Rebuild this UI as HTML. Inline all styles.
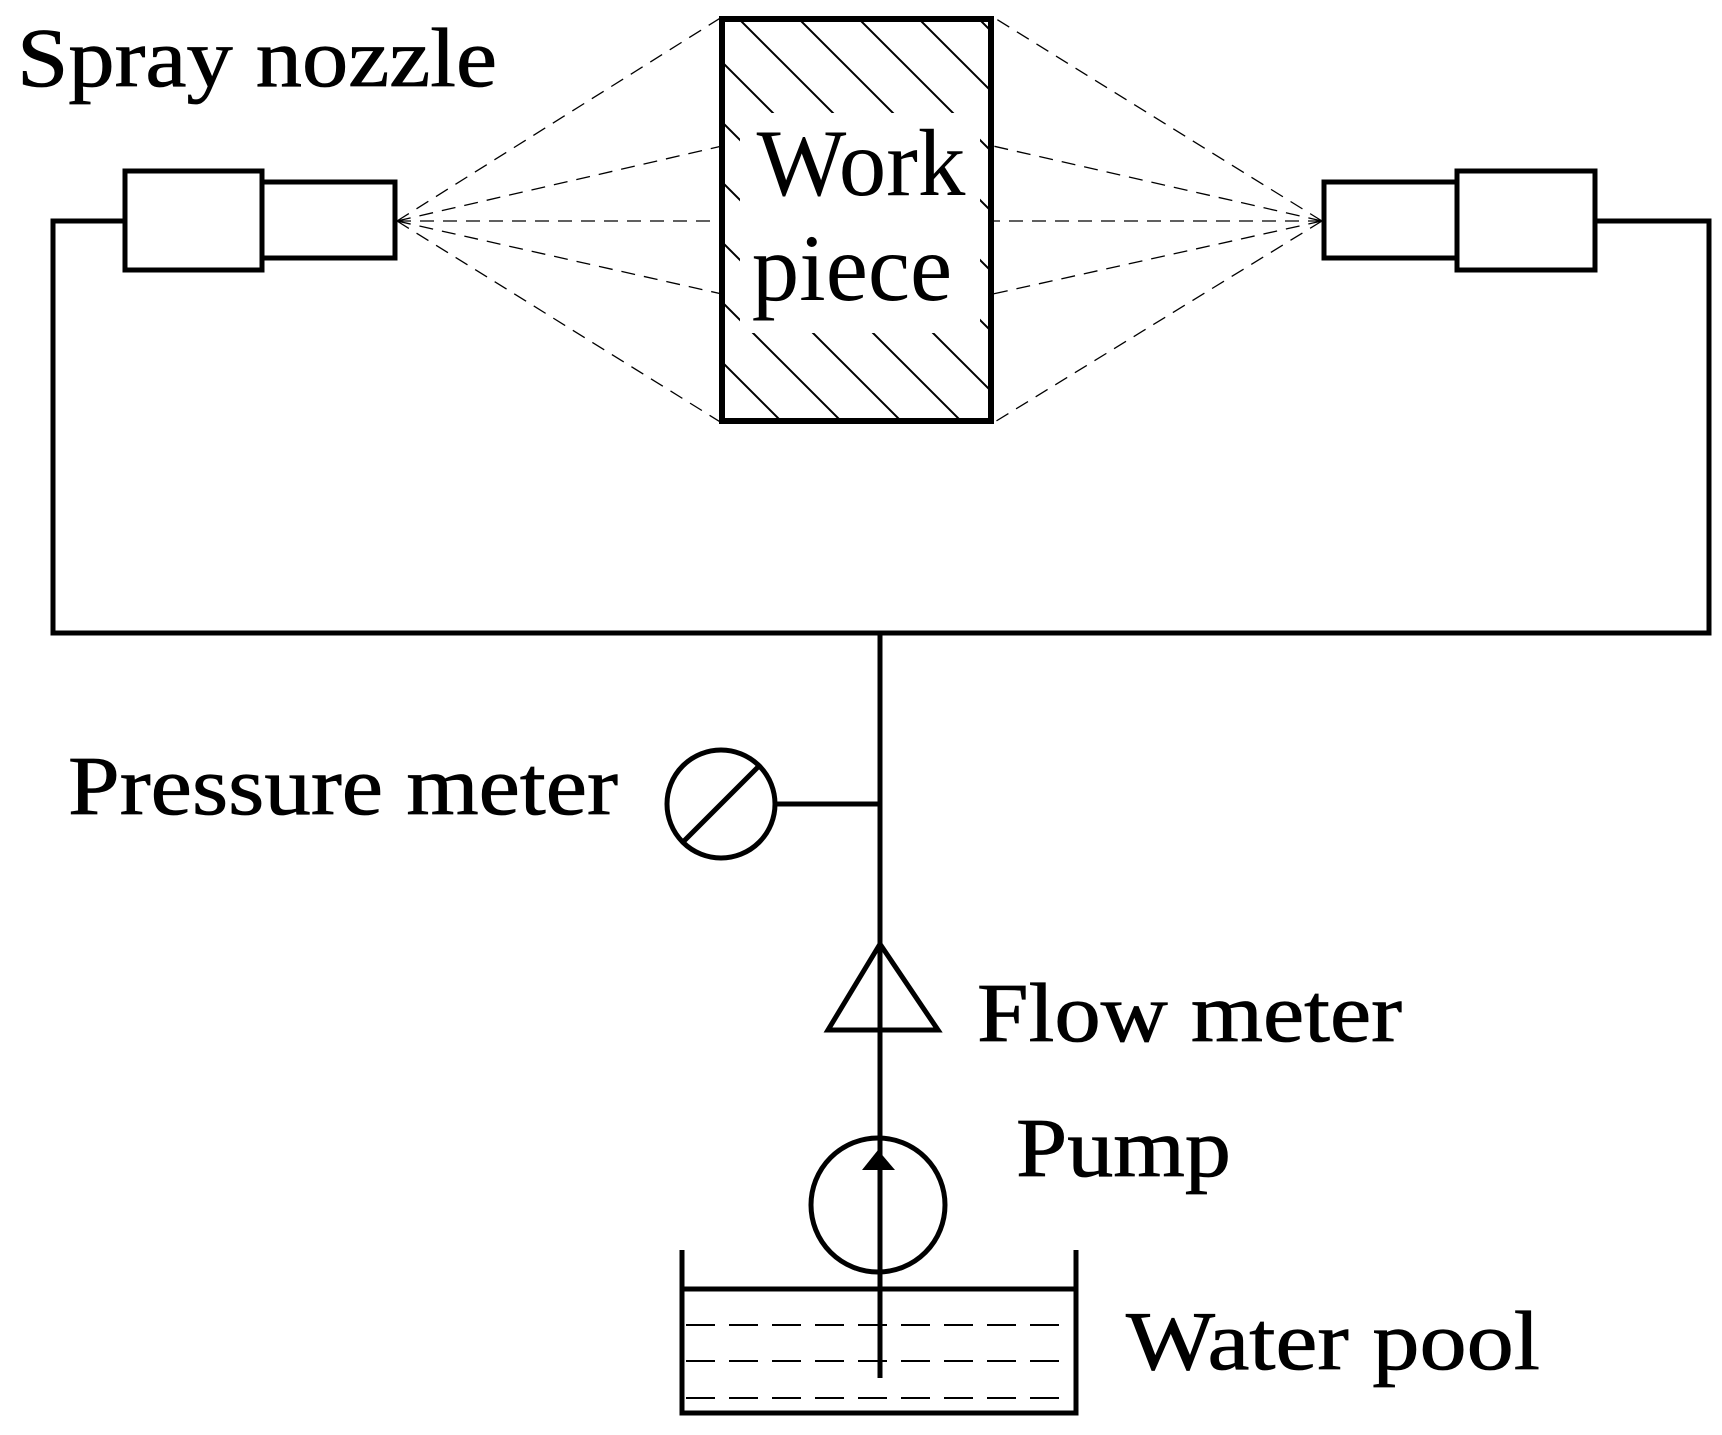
<!DOCTYPE html>
<html><head><meta charset="utf-8"><style>
html,body{margin:0;padding:0;background:#fff;}
svg{display:block;}
text{font-family:"Liberation Serif",serif;fill:#000;}
</style></head><body>
<svg width="1722" height="1435" viewBox="0 0 1722 1435" xmlns="http://www.w3.org/2000/svg">
<defs>
<clipPath id="wp"><rect x="720" y="17" width="273" height="406"/></clipPath>
<pattern id="hatch" patternUnits="userSpaceOnUse" width="60" height="60">
<path d="M0,0 L60,60 M-30,30 L30,90 M30,-30 L90,30" stroke="#000" stroke-width="2"/>
</pattern>
</defs>
<g stroke="#000" stroke-width="1.3" stroke-dasharray="14,9" fill="none">
<line x1="397" y1="221" x2="722" y2="17"/>
<line x1="397" y1="221" x2="722" y2="146"/>
<line x1="397" y1="221" x2="722" y2="221"/>
<line x1="397" y1="221" x2="722" y2="294"/>
<line x1="397" y1="221" x2="722" y2="423"/>
<line x1="1322" y1="221" x2="993" y2="17"/>
<line x1="1322" y1="221" x2="993" y2="146"/>
<line x1="1322" y1="221" x2="993" y2="221"/>
<line x1="1322" y1="221" x2="993" y2="294"/>
<line x1="1322" y1="221" x2="993" y2="423"/>
</g>
<g clip-path="url(#wp)">
<rect x="720" y="17" width="273" height="406" fill="url(#hatch)"/>
<rect x="740" y="113" width="240" height="220" fill="#fff"/>
</g>
<rect x="722" y="19" width="269" height="402" fill="none" stroke="#000" stroke-width="6"/>
<text x="861" y="195" font-size="95" text-anchor="middle">Work</text>
<text x="852" y="300" font-size="95" text-anchor="middle">piece</text>
<g stroke="#000" stroke-width="5" fill="none">
<polyline points="125,221 53,221 53,633 1709,633 1709,221 1595,221"/>
<line x1="880" y1="633" x2="880" y2="1378"/>
<rect x="125" y="171" width="137" height="99"/>
<rect x="262" y="182" width="133" height="76"/>
<rect x="1324" y="182" width="133" height="76"/>
<rect x="1457" y="171" width="138" height="99"/>
<circle cx="721" cy="804" r="54"/>
<line x1="683" y1="842" x2="759" y2="766"/>
<line x1="775" y1="804" x2="880" y2="804"/>
<polygon points="880,944 828,1030 938,1030"/>
<circle cx="878" cy="1205" r="67"/>
<polyline points="682,1250 682,1413 1076,1413 1076,1250"/>
<line x1="682" y1="1289" x2="1076" y2="1289"/>
</g>
<polygon points="878,1150 862,1170 895,1170" fill="#000"/>
<g stroke="#000" stroke-width="2" stroke-dasharray="29,14">
<line x1="686" y1="1325" x2="1072" y2="1325"/>
<line x1="686" y1="1361" x2="1072" y2="1361"/>
<line x1="686" y1="1398" x2="1072" y2="1398"/>
</g>
<g font-size="84" stroke="#000" stroke-width="0.8">
<text x="17" y="86" textLength="480" lengthAdjust="spacingAndGlyphs">Spray nozzle</text>
<text x="68" y="814" textLength="550" lengthAdjust="spacingAndGlyphs">Pressure meter</text>
<text x="977" y="1041" textLength="425" lengthAdjust="spacingAndGlyphs">Flow meter</text>
<text x="1016" y="1176" textLength="215" lengthAdjust="spacingAndGlyphs">Pump</text>
<text x="1126" y="1369" textLength="414" lengthAdjust="spacingAndGlyphs">Water pool</text>
</g>
</svg>
</body></html>
